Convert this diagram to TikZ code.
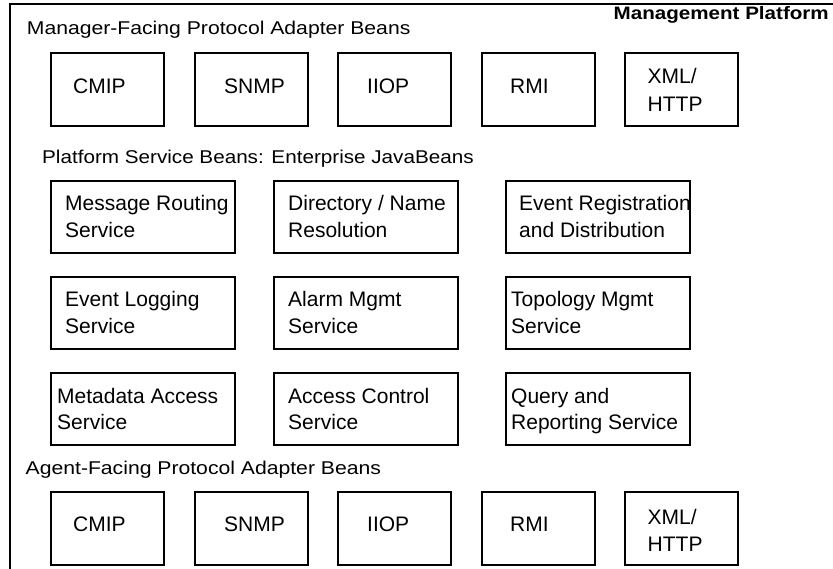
\documentclass[tikz,border=0pt]{standalone}
\usepackage{fontspec}
\setmainfont{Liberation Sans}
\newfontfamily\titlefont[FakeStretch=1.144]{Liberation Sans}
\newfontfamily\titlefontb[FakeStretch=1.117]{Liberation Sans}
\begin{document}
\begin{tikzpicture}[x=1pt,y=-1pt,
  box/.style={draw=black,line width=2pt,rectangle,inner sep=0pt,anchor=north west},
  proto/.style={box,minimum width=113pt,minimum height=73pt},
  svc/.style={box,minimum width=184pt,minimum height=72pt},
  lbl/.style={inner sep=0pt,anchor=base west,align=left,font=\fontsize{21}{26.5}\selectfont},
  ttl/.style={inner sep=0pt,font=\titlefont\fontsize{18.5}{22}\selectfont}]
\useasboundingbox (0,0) rectangle (833,569);
% outer frame
\coordinate (fb) at (10,569);
\coordinate (ftl) at (10,4);
\coordinate (ftr) at (833,4);
\draw[line width=2pt] (fb) -- (ftl) -- (ftr);
% titles
\node[ttl,font=\titlefont\bfseries\fontsize{18}{22}\selectfont,anchor=base east] (mp) at (829,20) {Management Platform};
\node[ttl,anchor=base west] (mft) at (26.7,35) {Manager-Facing Protocol Adapter Beans};
\node[ttl,font=\titlefontb\fontsize{18.5}{22}\selectfont,anchor=base west] (pst) at (42,163.5) {Platform Service Beans: Enterprise JavaBeans};
\node[ttl,anchor=base west] (aft) at (25.5,474) {Agent-Facing Protocol Adapter Beans};
% manager-facing adapters
\node[proto] (m1) at (50,52) {};
\node[proto] (m2) at (194,52) {};
\node[proto] (m3) at (337,52) {};
\node[proto] (m4) at (481,52) {};
\node[proto] (m5) at (624,52) {};
\node[lbl] (m1t) at (73,94) {CMIP};
\node[lbl] (m2t) at (224,94) {SNMP};
\node[lbl] (m3t) at (367,94) {IIOP};
\node[lbl] (m4t) at (510,94) {RMI};
\node[lbl,font=\fontsize{21}{27.5}\selectfont] (m5t) at (647.5,111.5) {XML/\\HTTP};
% platform services (anchor = baseline of the last line)
\node[svc] (s11) at (50,180) {};
\node[svc] (s12) at (273,180) {};
\node[svc] (s13) at (505,180) {};
\node[svc] (s21) at (50,276) {};
\node[svc] (s22) at (273,276) {};
\node[svc] (s23) at (505,276) {};
\node[svc] (s31) at (50,372) {};
\node[svc] (s32) at (273,372) {};
\node[svc] (s33) at (505,372) {};
\node[lbl] (s11t) at (65,237.5) {Message Routing\\Service};
\node[lbl] (s12t) at (288,237.5) {Directory / Name\\Resolution};
\node[lbl] (s13t) at (519,237.5) {Event Registration\\and Distribution};
\node[lbl] (s21t) at (65,333.5) {Event Logging\\Service};
\node[lbl] (s22t) at (288,333.5) {Alarm Mgmt\\Service};
\node[lbl] (s23t) at (511,333.5) {Topology Mgmt\\Service};
\node[lbl] (s31t) at (57,429.5) {Metadata Access\\Service};
\node[lbl] (s32t) at (288,429.5) {Access Control\\Service};
\node[lbl] (s33t) at (511,429.5) {Query and\\Reporting Service};
% agent-facing adapters
\node[proto] (a1) at (50,491) {};
\node[proto] (a2) at (194,491) {};
\node[proto] (a3) at (337,491) {};
\node[proto] (a4) at (481,491) {};
\node[proto] (a5) at (624,491) {};
\node[lbl] (a1t) at (73,531) {CMIP};
\node[lbl] (a2t) at (224,531) {SNMP};
\node[lbl] (a3t) at (367,531) {IIOP};
\node[lbl] (a4t) at (510,531) {RMI};
\node[lbl,font=\fontsize{21}{27.5}\selectfont] (a5t) at (647.5,551.5) {XML/\\HTTP};
\end{tikzpicture}
\end{document}
